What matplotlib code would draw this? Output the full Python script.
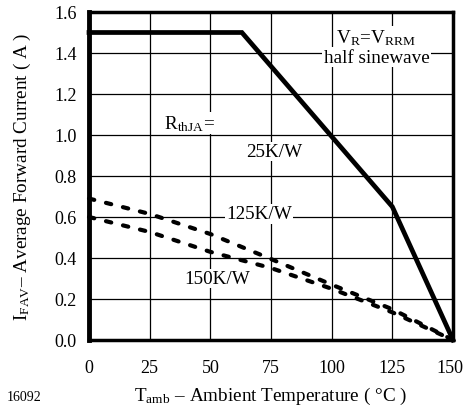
import numpy as np
import matplotlib.pyplot as plt
import matplotlib.transforms as mtransforms

plt.rcParams['font.family'] = ['Liberation Serif', 'DejaVu Serif']
plt.rcParams['mathtext.fontset'] = 'stix'

# derating curves
t_25 = [0, 63, 125, 150]
i_25 = [1.5, 1.5, 0.65, 0.0]

t_125 = [0, 25, 50, 75, 100, 125, 150]
i_125 = [0.69, 0.615, 0.517, 0.395, 0.27, 0.15, 0.0]

t_150 = [0, 25, 50, 75, 100, 125, 150]
i_150 = [0.60, 0.527, 0.43, 0.351, 0.25, 0.135, 0.0]

xticks = [0, 25, 50, 75, 100, 125, 150]
yticks = [0.0, 0.2, 0.4, 0.6, 0.8, 1.0, 1.2, 1.4, 1.6]

fig = plt.figure(figsize=(4.64, 4.10), dpi=100)
ax = fig.add_axes([89/464, 1-341/410, 364/464, 328/410])

ax.plot(t_25, i_25, color='black', lw=3.4, solid_joinstyle='miter', zorder=4, clip_on=False)
dots = (0, (1.3, 2.9))
ax.plot(t_125, i_125, color='black', lw=3.0, linestyle=dots,
        dash_capstyle='round', zorder=4, clip_on=False)
ax.plot(t_150, i_150, color='black', lw=3.0, linestyle=dots,
        dash_capstyle='round', zorder=4, clip_on=False)

ax.set_xlim(0, 150)
ax.set_ylim(0, 1.6)
ax.set_xticks(xticks)
ax.set_yticks(yticks)
ax.set_yticklabels(['%.1f' % v for v in yticks])
ax.tick_params(length=0, labelsize=13)
ax.tick_params(axis='x', pad=14)
ax.tick_params(axis='y', pad=9)
ax.grid(True, color='black', lw=0.9)
ax.set_axisbelow(True)

# last x label sits against the figure edge
lab = ax.get_xticklabels()[-1]
lab.set_transform(lab.get_transform() + mtransforms.ScaledTranslation(-3/100, 0, fig.dpi_scale_trans))

ax.spines['left'].set_linewidth(3.5)
for side in ['bottom', 'top', 'right']:
    ax.spines[side].set_linewidth(2.5)

fs = 13.8
box = dict(facecolor='white', edgecolor='none', pad=1)
ax.text(118.5, 1.475, r'V$_\mathregular{R}$=V$_\mathregular{RRM}$', ha='center', va='center',
        fontsize=fs, bbox=box, zorder=3)
ax.text(118.5, 1.38, 'half sinewave', ha='center', va='center', fontsize=fs, bbox=box, zorder=3)
ax.text(41.5, 1.06, r'R$_\mathregular{thJA}$=', ha='center', va='center', fontsize=fs, bbox=box, zorder=3)
ax.text(76.5, 0.92, '25K/W', ha='center', va='center', fontsize=fs, bbox=box, zorder=3)
ax.text(70, 0.615, '125K/W', ha='center', va='center', fontsize=fs, bbox=box, zorder=3)
ax.text(53, 0.30, '150K/W', ha='center', va='center', fontsize=fs, bbox=box, zorder=3)

ax.set_xlabel(r'T$_\mathregular{amb}$ – Ambient Temperature ( °C )', fontsize=fs, labelpad=6)
ax.set_ylabel(r'I$_\mathregular{FAV}$– Average Forward Current ( A )', fontsize=fs, labelpad=15)

fig.text(7/464, 1-398/410, '16092', fontsize=10, ha='left', va='center')

fig.savefig('out.png', dpi=100)
